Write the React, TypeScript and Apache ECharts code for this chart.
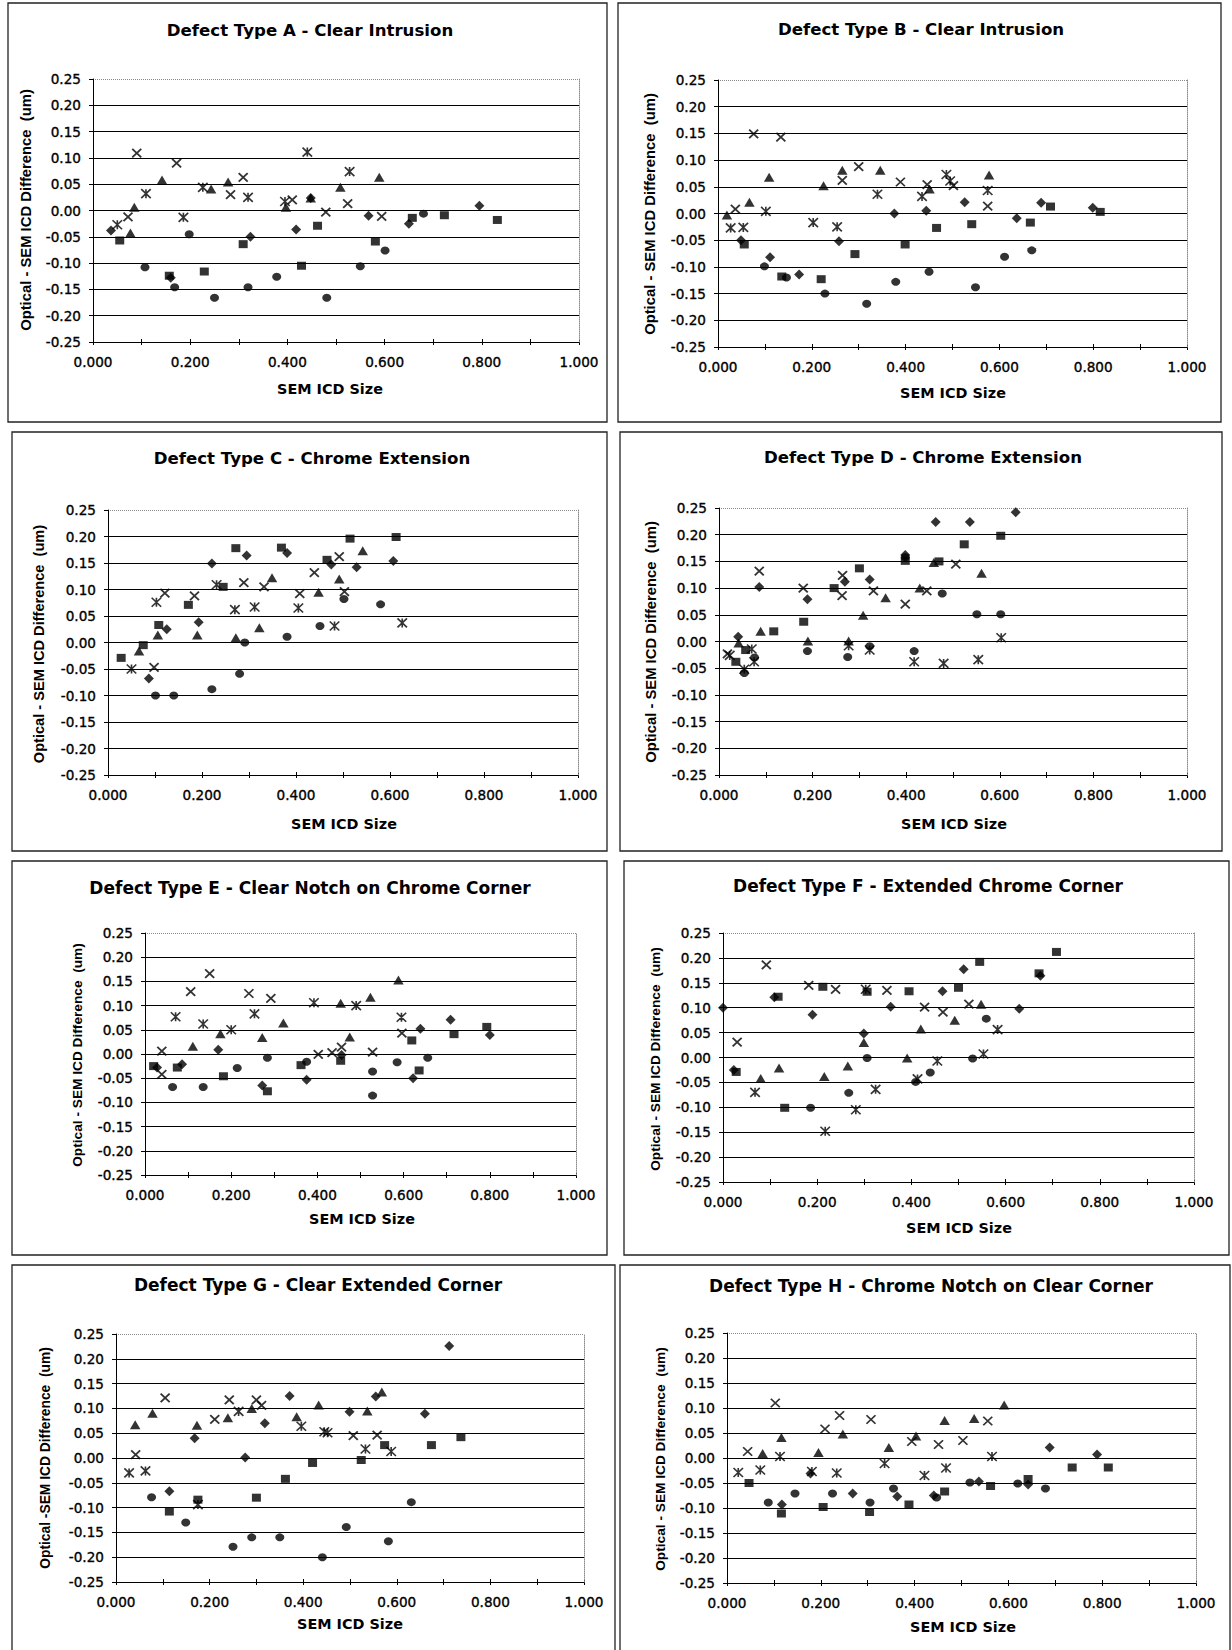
import { useEffect, useRef } from "react";
import * as echarts from "echarts";

// ---------- Data (x = SEM ICD Size, y = Optical - SEM ICD Difference) ----------
const A_DIAMOND = [[0.037,-0.038],[0.160,-0.128],[0.324,-0.050],[0.418,-0.036],[0.448,0.024],[0.567,-0.010],[0.650,-0.025],[0.795,0.009]];
const A_SQUARE = [[0.055,-0.057],[0.157,-0.124],[0.229,-0.116],[0.309,-0.064],[0.429,-0.105],[0.462,-0.029],[0.581,-0.059],[0.657,-0.014],[0.723,-0.009],[0.832,-0.018]];
const A_TRIANGLE = [[0.077,-0.043],[0.085,0.006],[0.142,0.058],[0.243,0.041],[0.278,0.054],[0.397,0.006],[0.448,0.024],[0.509,0.044],[0.589,0.063]];
const A_CROSS = [[0.072,-0.012],[0.090,0.109],[0.172,0.090],[0.283,0.030],[0.309,0.063],[0.410,0.020],[0.479,-0.003],[0.524,0.013],[0.594,-0.011]];
const A_STAR = [[0.050,-0.027],[0.109,0.032],[0.186,-0.013],[0.226,0.044],[0.319,0.025],[0.395,0.017],[0.441,0.111],[0.528,0.074]];
const A_CIRCLE = [[0.107,-0.108],[0.168,-0.146],[0.198,-0.045],[0.250,-0.166],[0.319,-0.146],[0.378,-0.126],[0.481,-0.166],[0.550,-0.106],[0.601,-0.076],[0.680,-0.006]];

const B_DIAMOND = [[0.049,-0.050],[0.111,-0.082],[0.173,-0.114],[0.258,-0.052],[0.376,0.000],[0.444,0.005],[0.526,0.021],[0.637,-0.009],[0.689,0.020],[0.799,0.011]];
const B_SQUARE = [[0.056,-0.058],[0.136,-0.118],[0.220,-0.123],[0.292,-0.076],[0.399,-0.058],[0.466,-0.027],[0.541,-0.020],[0.666,-0.017],[0.709,0.013],[0.815,0.003]];
const B_TRIANGLE = [[0.019,-0.003],[0.067,0.021],[0.109,0.068],[0.225,0.052],[0.265,0.081],[0.346,0.081],[0.451,0.046],[0.578,0.072]];
const B_CROSS = [[0.037,0.008],[0.076,0.149],[0.134,0.143],[0.265,0.062],[0.300,0.088],[0.389,0.059],[0.446,0.054],[0.502,0.052],[0.575,0.014]];
const B_STAR = [[0.027,-0.027],[0.054,-0.026],[0.102,0.004],[0.203,-0.017],[0.254,-0.025],[0.340,0.036],[0.435,0.032],[0.487,0.073],[0.495,0.061],[0.575,0.043]];
const B_CIRCLE = [[0.099,-0.099],[0.146,-0.120],[0.228,-0.150],[0.317,-0.169],[0.379,-0.128],[0.450,-0.109],[0.549,-0.138],[0.611,-0.081],[0.669,-0.069]];

const C_DIAMOND = [[0.087,-0.068],[0.125,0.025],[0.193,0.038],[0.221,0.149],[0.295,0.164],[0.381,0.169],[0.475,0.147],[0.529,0.142],[0.607,0.154]];
const C_SQUARE = [[0.028,-0.029],[0.075,-0.005],[0.108,0.033],[0.171,0.071],[0.245,0.105],[0.272,0.178],[0.369,0.179],[0.466,0.156],[0.515,0.196],[0.613,0.199]];
const C_TRIANGLE = [[0.066,-0.016],[0.106,0.014],[0.190,0.014],[0.272,0.009],[0.322,0.028],[0.349,0.122],[0.448,0.095],[0.492,0.120],[0.542,0.173]];
const C_CROSS = [[0.098,-0.047],[0.121,0.093],[0.184,0.088],[0.289,0.113],[0.332,0.105],[0.408,0.092],[0.439,0.132],[0.492,0.162],[0.503,0.096]];
const C_STAR = [[0.050,-0.050],[0.103,0.076],[0.231,0.109],[0.270,0.062],[0.312,0.067],[0.405,0.065],[0.482,0.031],[0.626,0.037]];
const C_CIRCLE = [[0.101,-0.100],[0.140,-0.100],[0.221,-0.088],[0.280,-0.059],[0.291,0.000],[0.381,0.011],[0.451,0.031],[0.502,0.082],[0.580,0.072]];

const D_DIAMOND = [[0.041,0.009],[0.086,0.102],[0.189,0.079],[0.269,0.112],[0.322,0.116],[0.398,0.162],[0.463,0.224],[0.536,0.224],[0.634,0.242]];
const D_SQUARE = [[0.036,-0.038],[0.057,-0.016],[0.117,0.019],[0.181,0.037],[0.246,0.100],[0.300,0.137],[0.398,0.151],[0.470,0.150],[0.524,0.182],[0.602,0.198]];
const D_TRIANGLE = [[0.042,-0.003],[0.089,0.019],[0.190,0.001],[0.277,0.001],[0.308,0.049],[0.356,0.082],[0.429,0.100],[0.459,0.148],[0.561,0.128]];
const D_CROSS = [[0.018,-0.023],[0.086,0.132],[0.180,0.100],[0.264,0.124],[0.263,0.086],[0.330,0.095],[0.398,0.070],[0.444,0.095],[0.506,0.145]];
const D_STAR = [[0.023,-0.026],[0.054,-0.052],[0.070,-0.014],[0.075,-0.038],[0.277,-0.008],[0.322,-0.016],[0.417,-0.038],[0.480,-0.041],[0.554,-0.034],[0.603,0.007]];
const D_CIRCLE = [[0.054,-0.059],[0.076,-0.030],[0.189,-0.018],[0.275,-0.029],[0.322,-0.009],[0.398,0.158],[0.417,-0.018],[0.477,0.090],[0.551,0.051],[0.602,0.051]];

const E_DIAMOND = [[0.028,-0.028],[0.086,-0.021],[0.170,0.009],[0.272,-0.065],[0.375,-0.053],[0.456,-0.002],[0.622,-0.050],[0.639,0.052],[0.709,0.071],[0.800,0.039]];
const E_SQUARE = [[0.020,-0.025],[0.075,-0.028],[0.182,-0.046],[0.284,-0.077],[0.362,-0.023],[0.454,-0.014],[0.619,0.028],[0.636,-0.034],[0.717,0.041],[0.793,0.056]];
const E_TRIANGLE = [[0.111,0.016],[0.175,0.042],[0.272,0.034],[0.321,0.064],[0.454,0.105],[0.475,0.035],[0.523,0.117],[0.588,0.153]];
const E_CROSS = [[0.039,0.006],[0.039,-0.042],[0.106,0.129],[0.150,0.166],[0.241,0.125],[0.292,0.115],[0.402,-0.001],[0.434,0.003],[0.456,0.014],[0.528,0.004],[0.596,0.043]];
const E_STAR = [[0.071,0.077],[0.135,0.062],[0.200,0.050],[0.254,0.083],[0.392,0.106],[0.490,0.100],[0.595,0.076]];
const E_CIRCLE = [[0.064,-0.068],[0.135,-0.068],[0.214,-0.029],[0.284,-0.008],[0.375,-0.016],[0.528,-0.036],[0.528,-0.086],[0.585,-0.017],[0.656,-0.008]];

const F_DIAMOND = [[0.000,0.100],[0.023,-0.025],[0.109,0.121],[0.190,0.086],[0.299,0.048],[0.356,0.102],[0.466,0.133],[0.511,0.177],[0.629,0.098],[0.674,0.164]];
const F_SQUARE = [[0.028,-0.029],[0.117,0.122],[0.131,-0.101],[0.212,0.142],[0.306,0.132],[0.395,0.133],[0.500,0.140],[0.545,0.192],[0.671,0.169],[0.708,0.212]];
const F_TRIANGLE = [[0.080,-0.042],[0.119,-0.021],[0.215,-0.038],[0.265,-0.017],[0.299,0.030],[0.391,-0.001],[0.420,0.057],[0.492,0.075],[0.548,0.107]];
const F_CROSS = [[0.030,0.031],[0.092,0.186],[0.182,0.145],[0.239,0.137],[0.348,0.135],[0.428,0.101],[0.467,0.091],[0.522,0.107]];
const F_STAR = [[0.068,-0.070],[0.217,-0.148],[0.282,-0.105],[0.303,0.137],[0.324,-0.064],[0.413,-0.043],[0.455,-0.007],[0.553,0.007],[0.583,0.056]];
const F_CIRCLE = [[0.186,-0.101],[0.267,-0.071],[0.306,-0.001],[0.409,-0.049],[0.440,-0.030],[0.530,-0.002],[0.559,0.078]];

const G_DIAMOND = [[0.114,-0.067],[0.168,0.040],[0.276,0.001],[0.318,0.070],[0.371,0.125],[0.499,0.093],[0.555,0.124],[0.660,0.089],[0.712,0.226]];
const G_SQUARE = [[0.114,-0.108],[0.175,-0.084],[0.300,-0.080],[0.362,-0.042],[0.420,-0.010],[0.524,-0.004],[0.574,0.026],[0.674,0.026],[0.737,0.042]];
const G_TRIANGLE = [[0.041,0.067],[0.078,0.090],[0.173,0.066],[0.239,0.081],[0.290,0.100],[0.386,0.083],[0.433,0.107],[0.537,0.095],[0.568,0.133]];
const G_CROSS = [[0.042,0.007],[0.105,0.121],[0.211,0.078],[0.242,0.117],[0.300,0.117],[0.311,0.106],[0.507,0.045],[0.558,0.046]];
const G_STAR = [[0.028,-0.030],[0.063,-0.026],[0.175,-0.094],[0.262,0.094],[0.396,0.064],[0.445,0.053],[0.452,0.051],[0.533,0.018],[0.588,0.013]];
const G_CIRCLE = [[0.076,-0.079],[0.149,-0.130],[0.250,-0.179],[0.290,-0.160],[0.350,-0.160],[0.441,-0.200],[0.492,-0.139],[0.582,-0.168],[0.631,-0.089]];

const H_DIAMOND = [[0.117,-0.093],[0.178,-0.031],[0.268,-0.071],[0.363,-0.077],[0.441,-0.075],[0.537,-0.047],[0.642,-0.053],[0.688,0.021],[0.789,0.007]];
const H_SQUARE = [[0.047,-0.050],[0.116,-0.111],[0.205,-0.098],[0.304,-0.108],[0.388,-0.093],[0.464,-0.067],[0.562,-0.056],[0.642,-0.042],[0.736,-0.019],[0.813,-0.019]];
const H_TRIANGLE = [[0.076,0.009],[0.116,0.041],[0.195,0.011],[0.247,0.048],[0.345,0.021],[0.403,0.044],[0.464,0.075],[0.527,0.079],[0.591,0.106]];
const H_CROSS = [[0.044,0.013],[0.103,0.110],[0.209,0.058],[0.240,0.085],[0.307,0.077],[0.394,0.033],[0.451,0.027],[0.503,0.035],[0.556,0.074]];
const H_STAR = [[0.024,-0.029],[0.071,-0.024],[0.113,0.003],[0.181,-0.027],[0.234,-0.030],[0.336,-0.011],[0.421,-0.035],[0.467,-0.020],[0.565,0.003]];
const H_CIRCLE = [[0.088,-0.089],[0.145,-0.071],[0.225,-0.071],[0.305,-0.089],[0.355,-0.061],[0.447,-0.079],[0.518,-0.049],[0.620,-0.051],[0.679,-0.061]];

const SERIES_NAMES = ["Set 1", "Set 2", "Set 3", "Set 4", "Set 5", "Set 6"];
const X_NAME = "SEM ICD Size";
const Y_NAME = "Optical - SEM ICD Difference  (um)";
const Y_NAME_G = "Optical -SEM ICD Difference  (um)";
const X_MIN = 0, X_MAX = 1, X_STEP = 0.1;
const Y_MIN = -0.25, Y_MAX = 0.25, Y_STEP = 0.05;

const PANELS = [
  { title: "Defect Type A - Clear Intrusion", yName: Y_NAME, data: [A_DIAMOND, A_SQUARE, A_TRIANGLE, A_CROSS, A_STAR, A_CIRCLE] },
  { title: "Defect Type B - Clear Intrusion", yName: Y_NAME, data: [B_DIAMOND, B_SQUARE, B_TRIANGLE, B_CROSS, B_STAR, B_CIRCLE] },
  { title: "Defect Type C - Chrome Extension", yName: Y_NAME, data: [C_DIAMOND, C_SQUARE, C_TRIANGLE, C_CROSS, C_STAR, C_CIRCLE] },
  { title: "Defect Type D - Chrome Extension", yName: Y_NAME, data: [D_DIAMOND, D_SQUARE, D_TRIANGLE, D_CROSS, D_STAR, D_CIRCLE] },
  { title: "Defect Type E - Clear Notch on Chrome Corner", yName: Y_NAME, data: [E_DIAMOND, E_SQUARE, E_TRIANGLE, E_CROSS, E_STAR, E_CIRCLE] },
  { title: "Defect Type F - Extended Chrome Corner", yName: Y_NAME, data: [F_DIAMOND, F_SQUARE, F_TRIANGLE, F_CROSS, F_STAR, F_CIRCLE] },
  { title: "Defect Type G - Clear Extended Corner", yName: Y_NAME_G, data: [G_DIAMOND, G_SQUARE, G_TRIANGLE, G_CROSS, G_STAR, G_CIRCLE] },
  { title: "Defect Type H - Chrome Notch on Clear Corner", yName: Y_NAME, data: [H_DIAMOND, H_SQUARE, H_TRIANGLE, H_CROSS, H_STAR, H_CIRCLE] },
];

// ---------- Layout (pixels) ----------
const LAYOUT = [
  { frame: [8, 3, 599, 419], grid: [93, 79, 486, 263], title: [310, 30, 16.6], xName: [330, 389], yName: [26, 210, 14.8] },
  { frame: [618, 3, 603, 419], grid: [718, 80, 469, 267], title: [921, 29, 16.6], xName: [953, 393], yName: [650, 214, 14.8] },
  { frame: [12, 432, 595, 419], grid: [108, 510, 470, 265], title: [312, 458, 16.6], xName: [344, 824], yName: [39, 644, 14.6] },
  { frame: [620, 432, 602, 419], grid: [719, 508, 468, 267], title: [923, 457, 16.6], xName: [954, 824], yName: [651, 642, 14.8] },
  { frame: [12, 861, 595, 394], grid: [145, 933, 431, 242], title: [310, 888, 17], xName: [362, 1219], yName: [77, 1055, 13.7] },
  { frame: [624, 861, 605, 394], grid: [723, 933, 471, 249], title: [928, 886, 17], xName: [959, 1228], yName: [655, 1059, 13.7] },
  { frame: [12, 1265, 603, 400], grid: [116, 1334, 468, 248], title: [318, 1285, 17], xName: [350, 1624], yName: [45, 1458, 13.8] },
  { frame: [620, 1265, 610, 400], grid: [727, 1333, 469, 250], title: [931, 1286, 17], xName: [963, 1627], yName: [660, 1459, 13.7] },
];

const WIDE = '"DejaVu Sans", "Liberation Sans", sans-serif';
const NARROW = '"Liberation Sans", Arial, sans-serif';

const MARKERS: any[] = [
  { symbol: "diamond", size: [10, 10], style: { color: "#000" } },
  { symbol: "rect", size: [9, 8], style: { color: "#000" } },
  { symbol: "triangle", size: [10.5, 9], style: { color: "#000" } },
  { symbol: "path://M0,0L10,10M10,0L0,10", size: [9, 8.5], style: { color: "rgba(0,0,0,0)", borderColor: "#000", borderWidth: 1.8 } },
  { symbol: "path://M0,0L10,10M10,0L0,10M5,0L5,10", size: [9.5, 9], style: { color: "rgba(0,0,0,0)", borderColor: "#000", borderWidth: 1.6 } },
  { symbol: "circle", size: [9, 8], style: { color: "#000" } },
];

function fmtX(v: number) {
  const k = Math.round(v * 10);
  return k % 2 === 0 ? (k / 10).toFixed(3) : "";
}
function fmtY(v: number) {
  const k = Math.round(v * 100);
  return k === 0 ? "0.00" : (k / 100).toFixed(2);
}

const TICK_LABEL = {
  color: "#000", fontFamily: WIDE, fontSize: 13.6,
  textBorderColor: "#000", textBorderWidth: 0.35,
};

function buildOption() {
  const grid: any[] = [];
  const xAxis: any[] = [];
  const yAxis: any[] = [];
  const series: any[] = [];
  const graphic: any[] = [];

  PANELS.forEach((p, i) => {
    const L = LAYOUT[i];
    const [gl, gt, gw, gh] = L.grid;
    grid.push({ left: gl, top: gt, width: gw, height: gh, containLabel: false, outerBoundsMode: "none", show: false });

    // main bottom x axis
    xAxis.push({
      type: "value", gridIndex: i, position: "bottom", min: X_MIN, max: X_MAX, interval: X_STEP,
      axisLine: { show: true, onZero: false, lineStyle: { color: "#000", width: 1 } },
      axisTick: { show: true, inside: false, length: 3, lineStyle: { color: "#000", width: 1 } },
      axisLabel: { show: true, margin: 13, formatter: fmtX, showMinLabel: true, showMaxLabel: true, ...TICK_LABEL },
      splitLine: { show: false },
    });
    // second x axis moved onto the bottom edge: inward half of the crossing ticks
    xAxis.push({
      type: "value", gridIndex: i, position: "top", offset: -gh, min: X_MIN, max: X_MAX, interval: X_STEP,
      axisLine: { show: false, onZero: false },
      axisTick: { show: true, inside: false, length: 3, lineStyle: { color: "#000", width: 1 } },
      axisLabel: { show: false },
      splitLine: { show: false },
    });
    // main left y axis
    yAxis.push({
      type: "value", gridIndex: i, position: "left", min: Y_MIN, max: Y_MAX, interval: Y_STEP, z: 3,
      axisLine: { show: true, onZero: false, lineStyle: { color: "#000", width: 1 } },
      axisTick: { show: true, inside: false, length: 4, lineStyle: { color: "#000", width: 1 } },
      axisLabel: { show: true, margin: 12, formatter: fmtY, showMinLabel: true, showMaxLabel: true, ...TICK_LABEL },
      splitLine: { show: true, showMinLine: true, showMaxLine: false, lineStyle: { color: "#000", width: 1 } },
    });
    // right y axis: dotted plot-area border (right and top)
    yAxis.push({
      type: "value", gridIndex: i, position: "right", min: Y_MIN, max: Y_MAX, interval: 0.25, z: 1,
      axisLine: { show: true, onZero: false, lineStyle: { color: "#8c8c8c", width: 1, type: "dotted" } },
      axisTick: { show: false },
      axisLabel: { show: false },
      splitLine: { show: true, showMinLine: false, showMaxLine: true, lineStyle: { color: "#8c8c8c", width: 1, type: "dotted" } },
    });

    p.data.forEach((arr, k) => {
      const m = MARKERS[k];
      series.push({
        type: "scatter", name: SERIES_NAMES[k], xAxisIndex: 2 * i, yAxisIndex: 2 * i,
        data: arr, symbol: m.symbol, symbolSize: m.size, itemStyle: m.style,
        silent: true, z: 5, emphasis: { disabled: true },
      });
    });

    const [fx, fy, fw, fh] = L.frame;
    graphic.push({ type: "rect", silent: true, shape: { x: fx, y: fy, width: fw, height: fh }, style: { fill: "none", stroke: "#222", lineWidth: 1.3 } });
    graphic.push({
      type: "text", silent: true, x: L.title[0], y: L.title[1],
      style: { text: p.title, fill: "#000", fontFamily: WIDE, fontWeight: "bold", fontSize: L.title[2], align: "center", verticalAlign: "middle", textAlign: "center", textVerticalAlign: "middle" },
    });
    graphic.push({
      type: "text", silent: true, x: L.xName[0], y: L.xName[1],
      style: { text: X_NAME, fill: "#000", fontFamily: WIDE, fontWeight: "bold", fontSize: 14.4, align: "center", verticalAlign: "middle", textAlign: "center", textVerticalAlign: "middle" },
    });
    graphic.push({
      type: "text", silent: true, x: L.yName[0], y: L.yName[1], rotation: Math.PI / 2,
      style: { text: p.yName, fill: "#000", fontFamily: NARROW, fontWeight: "bold", fontSize: L.yName[2], align: "center", verticalAlign: "middle", textAlign: "center", textVerticalAlign: "middle" },
    });
  });

  return {
    animation: false,
    backgroundColor: "#ffffff",
    grid, xAxis, yAxis, series,
    graphic,
  };
}

export default function App() {
  const ref = useRef<HTMLDivElement>(null);
  useEffect(() => {
    if (!ref.current) return;
    const chart = echarts.init(ref.current, undefined, { renderer: "svg" });
    chart.setOption(buildOption() as any);
    return () => chart.dispose();
  }, []);
  return (
    <div
      ref={ref}
      style={{ position: "absolute", left: 0, top: 0, width: 1232, height: 1650, background: "#fff" }}
    />
  );
}
